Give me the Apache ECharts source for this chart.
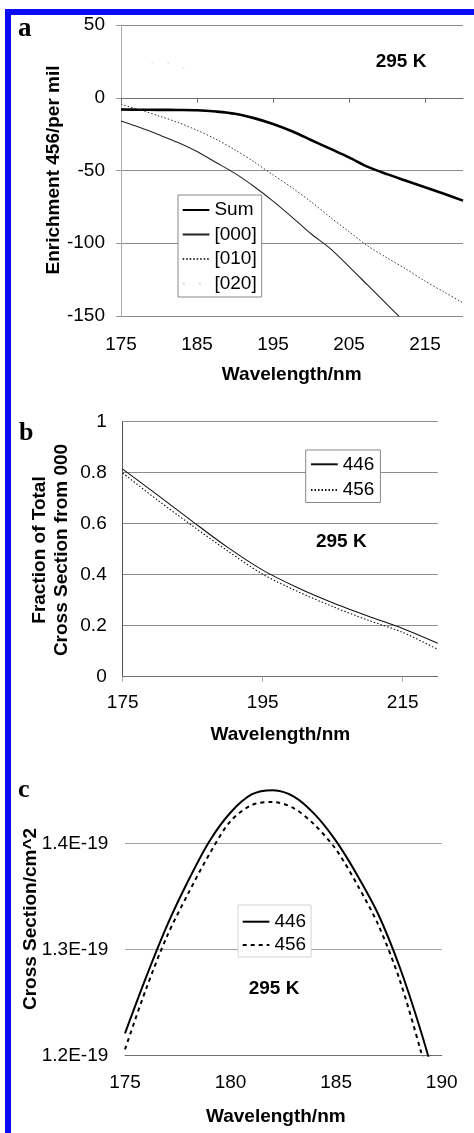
<!DOCTYPE html>
<html><head><meta charset="utf-8">
<script src="https://cdn.jsdelivr.net/npm/echarts@6/dist/echarts.min.js"></script>
<style>html,body{margin:0;padding:0;background:#fff;}#c{width:474px;height:1133px;}</style>
</head><body><div id="c"></div>
<script>
// ---------- Panel a : enrichment ----------
const wavelengthA = [175,177.5,180,182.5,185,187.5,190,192.5,195,197.5,200,202.5,205,207.5,210,212.5,215,217.5,220];
const sumA        = [-8.1,-8.2,-8.3,-8.4,-8.6,-9.5,-11,-14,-18,-23,-29,-35,-41,-47.5,-52.5,-57,-61.5,-66,-70.7];
const level000A   = [-16,-20.5,-25.5,-30.8,-37,-44.5,-52,-61,-71,-82,-93.5,-103.5,-116,-129,-142,-155,null,null,null];
const level010A   = [-4.5,-8.3,-12.5,-17,-22.3,-28.5,-35.8,-44,-53,-61.8,-71.5,-82,-92,-102,-110,-117.7,-126,-133.5,-141];
const wavelength020A = [179,181,185];
const level020A   = [24,24,16];
const yTicksA = [-150,-100,-50,0,50];
const xTicksA = [175,185,195,205,215];

// ---------- Panel b : fraction from 000 ----------
const wavelengthB = [175,180,185,190,195,200,205,210,215,220];
const frac446B    = [0.814,0.712,0.608,0.507,0.418,0.349,0.290,0.238,0.189,0.131];
const frac456B    = [0.799,0.692,0.591,0.493,0.402,0.334,0.275,0.222,0.174,0.107];
const yTicksB = [0,0.2,0.4,0.6,0.8,1];
const xTicksB = [175,195,215];

// ---------- Panel c : cross section (units of 1E-19 cm^2) ----------
const wavelengthC = [175,176,177,178,179,180,181,182,183,184,185,186,187,188,189,190];
const cross446C   = [1.221,1.274,1.323,1.365,1.402,1.429,1.446,1.450,1.444,1.427,1.402,1.370,1.333,1.284,1.224,1.155];
const cross456C   = [1.206,1.263,1.313,1.353,1.390,1.421,1.436,1.439,1.433,1.417,1.394,1.361,1.323,1.272,1.205,1.130];
const yTicksC = [1.2,1.3,1.4];
const xTicksC = [175,180,185,190];

const FONT = '"Liberation Sans", Arial, Helvetica, sans-serif';
const SERIF = '"Liberation Serif", "Times New Roman", serif';
const GRID = '#8c8c8c';

function pairs(xs, ys){ return xs.map((x,i)=>[x, ys[i]]); }
function step(t){ return t[1]-t[0]; }

const chart = echarts.init(document.getElementById('c'), null, {renderer:'canvas'});

const labelBase = {fontSize:19, color:'#000', fontFamily:FONT};
const noSymbol = {color:'rgba(0,0,0,0)', borderColor:'rgba(0,0,0,0)', borderWidth:0};

function xAxisCfg(grid, ticks, max, margin, tickShow, tickColor){
  return {gridIndex:grid, type:'value', min:ticks[0], max:max, interval:step(ticks),
    axisLine:{show:true, lineStyle:{color:'#6e6e6e', width:1}},
    axisTick:{show:tickShow, length:5, lineStyle:{color:tickColor}},
    axisLabel:Object.assign({margin:margin, showMaxLabel: max===ticks[ticks.length-1]}, labelBase),
    splitLine:{show:false}};
}

const option = {
  animation:false,
  backgroundColor:'#fff',
  textStyle:{fontFamily:FONT},
  grid:[
    {left:121, top:25, width:342, height:291},
    {left:122.7, top:421.7, width:315, height:255},
    {left:125, top:779.6, width:316.7, height:276.1}
  ],
  xAxis:[
    xAxisCfg(0, xTicksA, 220, 19, true, '#6e6e6e'),
    xAxisCfg(1, xTicksB, 220, 17, true, '#aaa'),
    xAxisCfg(2, xTicksC, 190, 18, false, '#aaa')
  ],
  yAxis:[
    {gridIndex:0, type:'value', min:yTicksA[0], max:yTicksA[yTicksA.length-1], interval:step(yTicksA),
     axisLine:{show:true, lineStyle:{color:'#aaa'}}, axisTick:{show:true, length:5, lineStyle:{color:'#999'}},
     axisLabel:Object.assign({margin:16}, labelBase),
     splitLine:{show:true, lineStyle:{color:GRID, width:1}}},
    {gridIndex:1, type:'value', min:yTicksB[0], max:yTicksB[yTicksB.length-1], interval:step(yTicksB),
     axisLine:{show:true, lineStyle:{color:'#555'}}, axisTick:{show:false},
     axisLabel:Object.assign({margin:16}, labelBase),
     splitLine:{show:true, lineStyle:{color:GRID, width:1}}},
    {gridIndex:2, type:'value', min:yTicksC[0], max:1.46, interval:0.1,
     axisLine:{show:false}, axisTick:{show:false},
     axisLabel:Object.assign({margin:16.7, showMaxLabel:false, formatter:v=>v.toFixed(1)+'E-19'}, labelBase),
     splitLine:{show:true, showMaxLine:false, lineStyle:{color:'#a0a0a0', width:1}}}
  ],
  legend:[
    {data:['Sum','[000]','[010]','[020]'], orient:'vertical', left:178, top:195,
     padding:[5.5,5,4,3.7], itemGap:5.5, itemWidth:26.7, itemHeight:14,
     borderColor:'#888', borderWidth:1, backgroundColor:'#fff', selectedMode:false,
     itemStyle:noSymbol,
     textStyle:{fontSize:19, color:'#000', fontFamily:FONT, lineHeight:19}},
    {data:['446','456'], orient:'vertical', left:305.7, top:450,
     padding:[4.8,6,3,4.3], itemGap:6.7, itemWidth:26.7, itemHeight:14,
     borderColor:'#888', borderWidth:1, backgroundColor:'#fff', selectedMode:false,
     itemStyle:noSymbol,
     textStyle:{fontSize:19, color:'#000', fontFamily:FONT, lineHeight:19}},
    {data:['446 c','456 c'], orient:'vertical', left:238, top:905,
     padding:[7.2,5,2.5,3.7], itemGap:4.3, itemWidth:26.7, itemHeight:14, selectedMode:false,
     borderColor:'#d4d4d4', borderWidth:1, backgroundColor:'#fff',
     itemStyle:noSymbol,
     formatter:n=>n.replace(' c',''),
     textStyle:{fontSize:19, color:'#000', fontFamily:FONT, lineHeight:19}}
  ],
  series:[
    {name:'Sum', type:'line', xAxisIndex:0, yAxisIndex:0, data:pairs(wavelengthA,sumA), symbol:'none', smooth:0.3,
     lineStyle:{color:'#000', width:2.6}},
    {name:'[000]', type:'line', xAxisIndex:0, yAxisIndex:0, data:pairs(wavelengthA,level000A), symbol:'none', smooth:0.3,
     lineStyle:{color:'#222', width:1.1}},
    {name:'[010]', type:'line', xAxisIndex:0, yAxisIndex:0, data:pairs(wavelengthA,level010A), symbol:'none', smooth:0.3,
     lineStyle:{color:'#333', width:1, type:[1.5,2]}},
    {name:'[020]', type:'line', xAxisIndex:0, yAxisIndex:0, data:pairs(wavelength020A,level020A), symbol:'none', smooth:0.3,
     lineStyle:{color:'#d8d8d8', width:1, type:[2,14]}},
    {name:'446', type:'line', xAxisIndex:1, yAxisIndex:1, data:pairs(wavelengthB,frac446B), symbol:'none', smooth:0.3,
     lineStyle:{color:'#111', width:1.1}},
    {name:'456', type:'line', xAxisIndex:1, yAxisIndex:1, data:pairs(wavelengthB,frac456B), symbol:'none', smooth:0.3,
     lineStyle:{color:'#111', width:1.1, type:[1.5,2]}},
    {name:'446 c', type:'line', xAxisIndex:2, yAxisIndex:2, data:pairs(wavelengthC,cross446C), symbol:'none', smooth:0.3,
     lineStyle:{color:'#000', width:2}},
    {name:'456 c', type:'line', xAxisIndex:2, yAxisIndex:2, data:pairs(wavelengthC,cross456C), symbol:'none', smooth:0.3,
     lineStyle:{color:'#000', width:2, type:[4,4]}}
  ],
  graphic:[
    {type:'rect', shape:{x:5, y:9, width:469, height:6}, style:{fill:'#0a0af5'}, z:100},
    {type:'rect', shape:{x:5, y:9, width:6, height:1124}, style:{fill:'#0a0af5'}, z:100},
    {type:'text', x:18, y:29, style:{text:'a', font:'bold 27px '+SERIF, fill:'#000', verticalAlign:'middle'}},
    {type:'text', x:19, y:433.5, style:{text:'b', font:'bold 26px '+SERIF, fill:'#000', verticalAlign:'middle'}},
    {type:'text', x:18, y:790, style:{text:'c', font:'bold 26px '+SERIF, fill:'#000', verticalAlign:'middle'}},
    {type:'text', x:401, y:61.7, style:{text:'295 K', font:'bold 19px '+FONT, fill:'#000', align:'center', verticalAlign:'middle'}},
    {type:'text', x:341.3, y:542, style:{text:'295 K', font:'bold 19px '+FONT, fill:'#000', align:'center', verticalAlign:'middle'}},
    {type:'text', x:274, y:989, style:{text:'295 K', font:'bold 19px '+FONT, fill:'#000', align:'center', verticalAlign:'middle'}},
    {type:'text', x:291.7, y:375, style:{text:'Wavelength/nm', font:'bold 19px '+FONT, fill:'#000', align:'center', verticalAlign:'middle'}},
    {type:'text', x:280.3, y:735, style:{text:'Wavelength/nm', font:'bold 19px '+FONT, fill:'#000', align:'center', verticalAlign:'middle'}},
    {type:'text', x:275.8, y:1116.7, style:{text:'Wavelength/nm', font:'bold 19px '+FONT, fill:'#000', align:'center', verticalAlign:'middle'}},
    {type:'text', x:54, y:170, rotation:Math.PI/2, style:{text:'Enrichment 456/per mil', font:'bold 19px '+FONT, fill:'#000', align:'center', verticalAlign:'middle'}},
    {type:'text', x:39.5, y:550, rotation:Math.PI/2, style:{text:'Fraction of Total', font:'bold 19px '+FONT, fill:'#000', align:'center', verticalAlign:'middle'}},
    {type:'text', x:61.5, y:550, rotation:Math.PI/2, style:{text:'Cross Section from 000', font:'bold 19px '+FONT, fill:'#000', align:'center', verticalAlign:'middle'}},
    {type:'text', x:30.5, y:919, rotation:Math.PI/2, style:{text:'Cross Section/cm^2', font:'bold 19px '+FONT, fill:'#000', align:'center', verticalAlign:'middle'}}
  ]
};
chart.setOption(option);
</script>
</body></html>
